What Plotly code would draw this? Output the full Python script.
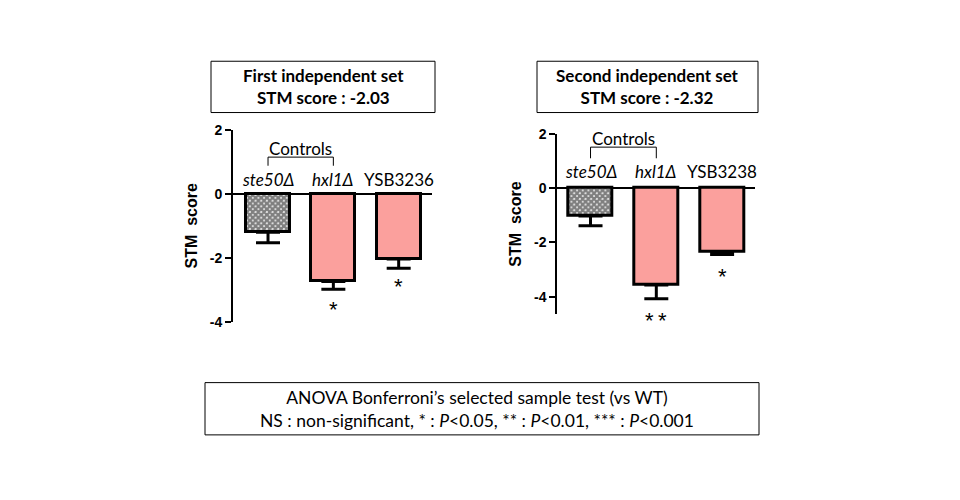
import plotly.graph_objects as go

# ---- data ----
categories = ["ste50Δ", "hxl1Δ", "YSB3236"]
categories2 = ["ste50Δ", "hxl1Δ", "YSB3238"]
set1_values = [-1.20, -2.74, -2.04]
set1_errors = [0.33, 0.25, 0.29]
set2_values = [-1.03, -3.57, -2.34]
set2_errors = [0.36, 0.50, 0.10]
set1_stars = ["", "*", "*"]
set2_stars = ["", "**", "*"]
italic_labels = [True, True, False]
y_ticks = [2, 0, -2, -4]
titles = ["First independent set<br>STM score : -2.03",
          "Second independent set<br>STM score : -2.32"]

W, H = 960, 500
PINK = "#FBA09D"
CAL = "Lato, 'Open Sans', sans-serif"
ARIAL = "'Liberation Sans', Arial, sans-serif"


def px_x(p):
    return p / W


def px_y(p):
    return 1 - p / H


fig = go.Figure()

panels = [
    dict(cats=categories, vals=set1_values, errs=set1_errors, stars=set1_stars,
         xa="x", ya="y", xdom=[233, 432], ydom=[126, 324], yr=[-4, 2],
         xr=[-0.536, 2.51], lab_y=0.46, br_top=1.15, br_bot=0.88, ctrl_y=1.42,
         star_shift=[0, -20, -18]),
    dict(cats=categories2, vals=set2_values, errs=set2_errors, stars=set2_stars,
         xa="x2", ya="y2", xdom=[557.3, 755], ydom=[130, 316.5], yr=[-4.65, 2],
         xr=[-0.505, 2.50], lab_y=0.60, br_top=1.51, br_bot=1.10, ctrl_y=1.84,
         star_shift=[0, -22, -22]),
]

shapes = []
annotations = []

for i, p in enumerate(panels):
    xs = list(range(len(p["cats"])))
    common = dict(xaxis=p["xa"], yaxis=p["ya"], width=0.675, showlegend=False,
                  hoverinfo="skip")
    # control bar (checkered)
    fig.add_trace(go.Bar(
        x=xs[:1], y=p["vals"][:1],
        marker=dict(color="white", line=dict(color="black", width=3),
                    pattern=dict(shape="x", size=4, solidity=0.85,
                                 fgcolor="black", bgcolor="white",
                                 fillmode="overlay")),
        error_y=dict(type="data", symmetric=False, array=[0],
                     arrayminus=p["errs"][:1], color="black", thickness=3, width=12),
        **common))
    # strain bars
    fig.add_trace(go.Bar(
        x=xs[1:], y=p["vals"][1:],
        marker=dict(color=PINK, line=dict(color="black", width=3)),
        error_y=dict(type="data", symmetric=False, array=[0] * (len(xs) - 1),
                     arrayminus=p["errs"][1:], color="black", thickness=3, width=12),
        **common))
    # category labels and stars
    for j, c in enumerate(p["cats"]):
        txt = f"<i>{c}</i>" if italic_labels[j] else c
        annotations.append(dict(x=j, y=p["lab_y"], xref=p["xa"], yref=p["ya"],
                                text=txt, showarrow=False, yanchor="middle",
                                font=dict(family=CAL, size=17, color="black")))
        if p["stars"][j]:
            annotations.append(dict(x=j, y=p["vals"][j] - p["errs"][j],
                                    xref=p["xa"], yref=p["ya"],
                                    text="\u2009".join(p["stars"][j]),
                                    showarrow=False, yanchor="middle",
                                    yshift=p["star_shift"][j],
                                    font=dict(family=ARIAL, size=22, color="black")))
    # Controls bracket
    shapes.append(dict(type="path", xref=p["xa"], yref=p["ya"],
                       path=f"M 0,{p['br_bot']} L 0,{p['br_top']} L 1,{p['br_top']} L 1,{p['br_bot']}",
                       line=dict(color="black", width=1)))
    annotations.append(dict(x=0.5, y=p["ctrl_y"], xref=p["xa"], yref=p["ya"],
                            text="Controls", showarrow=False, yanchor="middle",
                            font=dict(family=CAL, size=17, color="black")))

# title boxes
boxes = [(211, 55, 435, 108), (537, 55, 758, 108)]
for (x0, y0, x1, y1), t in zip(boxes, titles):
    shapes.append(dict(type="rect", xref="paper", yref="paper",
                       x0=px_x(x0), x1=px_x(x1), y0=px_y(y1), y1=px_y(y0),
                       line=dict(color="black", width=1), fillcolor="white"))
    annotations.append(dict(x=px_x((x0 + x1) / 2), y=px_y((y0 + y1) / 2),
                            xref="paper", yref="paper", text=f"<b>{t}</b>",
                            showarrow=False, xanchor="center", yanchor="middle",
                            font=dict(family=CAL, size=17, color="black")))

# bottom box
shapes.append(dict(type="rect", xref="paper", yref="paper",
                   x0=px_x(205), x1=px_x(759), y0=px_y(441), y1=px_y(387),
                   line=dict(color="black", width=1), fillcolor="white"))
annotations.append(dict(x=px_x(477), y=px_y(414), xref="paper", yref="paper",
                        text="ANOVA Bonferroni’s selected sample test (vs WT)<br>"
                             "NS : non-significant, * : <i>P</i>&lt;0.05, ** : <i>P</i>&lt;0.01, "
                             "*** : <i>P</i>&lt;0.001",
                        showarrow=False, xanchor="center", yanchor="middle",
                        font=dict(family=CAL, size=17.5, color="black")))

layout_axes = {}
for i, p in enumerate(panels):
    sfx = "" if i == 0 else "2"
    layout_axes["xaxis" + sfx] = dict(domain=[px_x(p["xdom"][0]), px_x(p["xdom"][1])],
                                      range=p["xr"], visible=False, anchor=p["ya"],
                                      fixedrange=True)
    layout_axes["yaxis" + sfx] = dict(
        domain=[px_y(p["ydom"][1]), px_y(p["ydom"][0])], range=p["yr"],
        anchor=p["xa"], showline=True, linecolor="black", linewidth=2,
        ticks="outside", ticklen=6, tickwidth=2, tickcolor="black",
        tickvals=y_ticks, ticktext=[str(v) for v in y_ticks],
        tickfont=dict(family=ARIAL, size=14, color="black", weight="bold"),
        showgrid=False, zeroline=True, zerolinecolor="black", zerolinewidth=2,
        title=dict(text="STM  score", standoff=8,
                   font=dict(family=ARIAL, size=16, color="black", weight="bold")),
    )

fig.update_layout(
    width=W, height=H, margin=dict(l=0, r=0, t=0, b=0),
    paper_bgcolor="white", plot_bgcolor="rgba(0,0,0,0)",
    shapes=shapes, annotations=annotations, bargap=0, barmode="overlay",
    **layout_axes,
)

fig.write_html("out.html", config={"displayModeBar": False},
               post_script="document.body.style.margin='0';")
